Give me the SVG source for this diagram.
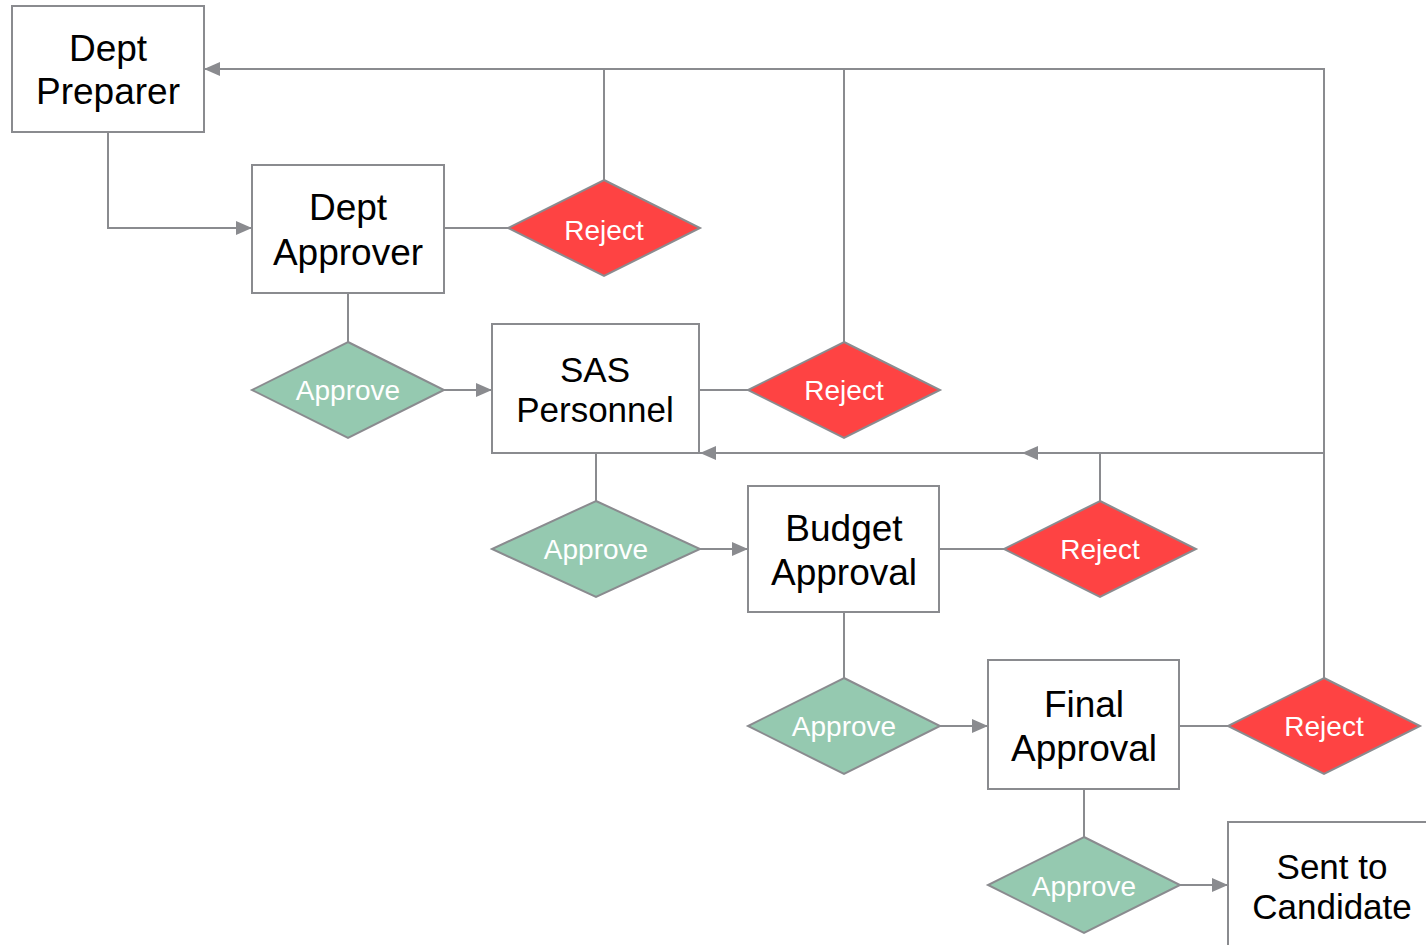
<svg xmlns="http://www.w3.org/2000/svg" width="1426" height="945" viewBox="0 0 1426 945">
<style>
.box{fill:#fff;stroke:#8a8b8f;stroke-width:2}
.rej{fill:#fe4343;stroke:#8a8b8f;stroke-width:2}
.app{fill:#95c9b0;stroke:#8a8b8f;stroke-width:2}
.c{fill:none;stroke:#8a8b8f;stroke-width:2}
.bt{font-family:"Liberation Sans",Arial,sans-serif;font-size:37px;fill:#000;text-anchor:middle}
.bs{font-size:35px}
.dt{font-family:"Liberation Sans",Arial,sans-serif;font-size:28px;fill:#fff;text-anchor:middle}
</style>
<defs>
<marker id="arr" viewBox="0 0 16 14" refX="16" refY="7" markerWidth="16" markerHeight="14" markerUnits="userSpaceOnUse" orient="auto">
<path d="M0,0 L16,7 L0,14 z" fill="#8a8b8f"/>
</marker>
</defs>
<g id="connectors">
<path class="c" d="M108,132 V228 H252" marker-end="url(#arr)"/>
<path class="c" d="M444,228 H508"/>
<path class="c" d="M604,180 V69"/>
<path class="c" d="M844,342 V69"/>
<path class="c" d="M1324,678 V69 H204" marker-end="url(#arr)"/>
<path class="c" d="M1324,453 H1022" marker-end="url(#arr)"/>
<path class="c" d="M1022,453 H700" marker-end="url(#arr)"/>
<path class="c" d="M1100,501 V453"/>
<path class="c" d="M348,293 V342"/>
<path class="c" d="M444,390 H492" marker-end="url(#arr)"/>
<path class="c" d="M699,390 H748"/>
<path class="c" d="M596,453 V501"/>
<path class="c" d="M700,549 H748" marker-end="url(#arr)"/>
<path class="c" d="M939,549 H1004"/>
<path class="c" d="M844,612 V678"/>
<path class="c" d="M940,726 H988" marker-end="url(#arr)"/>
<path class="c" d="M1179,726 H1228"/>
<path class="c" d="M1084,789 V837"/>
<path class="c" d="M1180,885 H1228" marker-end="url(#arr)"/>
</g>
<g id="dept-preparer">
<rect class="box" x="12" y="6" width="192" height="126"/>
<text class="bt" x="108" y="61">Dept</text>
<text class="bt" x="108" y="104">Preparer</text>
</g>
<g id="dept-approver">
<rect class="box" x="252" y="165" width="192" height="128"/>
<text class="bt" x="348" y="220">Dept</text>
<text class="bt" x="348" y="265">Approver</text>
</g>
<g id="reject-1">
<polygon class="rej" points="604,180 700,228 604,276 508,228"/>
<text class="dt" x="604" y="240">Reject</text>
</g>
<g id="approve-1">
<polygon class="app" points="348,342 444,390 348,438 252,390"/>
<text class="dt" x="348" y="400">Approve</text>
</g>
<g id="sas-personnel">
<rect class="box" x="492" y="324" width="207" height="129"/>
<text class="bt bs" x="595" y="382">SAS</text>
<text class="bt bs" x="595" y="422">Personnel</text>
</g>
<g id="reject-2">
<polygon class="rej" points="844,342 940,390 844,438 748,390"/>
<text class="dt" x="844" y="400">Reject</text>
</g>
<g id="approve-2">
<polygon class="app" points="596,501 700,549 596,597 492,549"/>
<text class="dt" x="596" y="559">Approve</text>
</g>
<g id="budget-approval">
<rect class="box" x="748" y="486" width="191" height="126"/>
<text class="bt" x="844" y="541">Budget</text>
<text class="bt" x="844" y="585">Approval</text>
</g>
<g id="reject-3">
<polygon class="rej" points="1100,501 1196,549 1100,597 1004,549"/>
<text class="dt" x="1100" y="559">Reject</text>
</g>
<g id="approve-3">
<polygon class="app" points="844,678 940,726 844,774 748,726"/>
<text class="dt" x="844" y="736">Approve</text>
</g>
<g id="final-approval">
<rect class="box" x="988" y="660" width="191" height="129"/>
<text class="bt" x="1084" y="717">Final</text>
<text class="bt" x="1084" y="761">Approval</text>
</g>
<g id="reject-4">
<polygon class="rej" points="1324,678 1420,726 1324,774 1228,726"/>
<text class="dt" x="1324" y="736">Reject</text>
</g>
<g id="approve-4">
<polygon class="app" points="1084,837 1180,885 1084,933 988,885"/>
<text class="dt" x="1084" y="896">Approve</text>
</g>
<g id="sent-to-candidate">
<rect class="box" x="1228" y="822" width="210" height="140"/>
<text class="bt bs" x="1332" y="879">Sent to</text>
<text class="bt bs" x="1332" y="919">Candidate</text>
</g>
</svg>
